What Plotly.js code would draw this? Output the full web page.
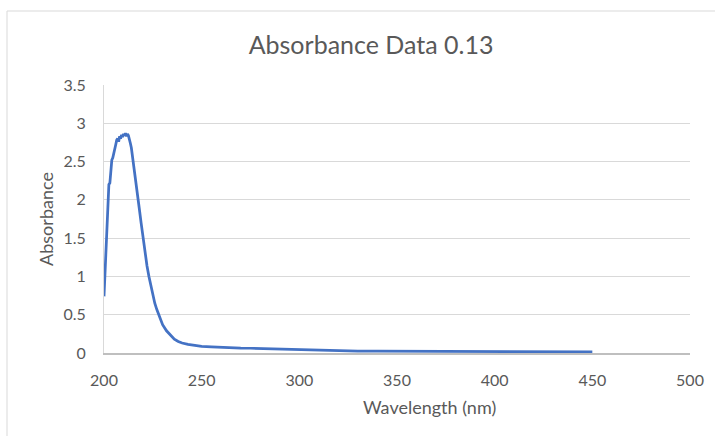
<!DOCTYPE html>
<html>
<head>
<meta charset="utf-8">
<script src="https://cdn.plot.ly/plotly-3.0.1.min.js"></script>
<style>html,body{margin:0;padding:0;background:#fff;}#chart{width:715px;height:436px;}</style>
</head>
<body>
<div id="chart"></div>
<script>
const wavelength = [200,200.5,201,201.5,202,202.5,203,203.5,204,204.5,205,205.5,206,206.5,207,207.5,208,208.5,209,209.5,210,210.5,211,211.5,212,212.5,213,213.5,214,215,216,217,218,219,220,221,222,223,224,225,226,227,228,229,230,232,234,236,238,240,243,246,250,255,260,265,270,275,280,290,300,310,320,330,340,350,360,370,380,390,400,410,420,430,440,450];
const absorbance = [0.74,1.0,1.28,1.6,1.92,2.2,2.22,2.45,2.52,2.55,2.62,2.7,2.72,2.78,2.8,2.76,2.83,2.8,2.85,2.82,2.86,2.84,2.87,2.83,2.86,2.84,2.80,2.74,2.68,2.5,2.3,2.1,1.9,1.7,1.5,1.31,1.14,1.0,0.87,0.75,0.65,0.57,0.5,0.43,0.37,0.29,0.23,0.18,0.15,0.13,0.112,0.1,0.088,0.08,0.073,0.068,0.064,0.062,0.058,0.048,0.04,0.033,0.028,0.025,0.024,0.023,0.022,0.021,0.02,0.018,0.017,0.016,0.016,0.015,0.015,0.014];
const xTicks = [200,250,300,350,400,450,500];
const yTicks = [0,0.5,1,1.5,2,2.5,3,3.5];
const xTitle = 'Wavelength (nm)';

const font = "Lato, 'Open Sans', sans-serif";
const trace = {
  x: wavelength, y: absorbance, type: 'scatter', mode: 'lines',
  line: {color: '#4472C4', width: 2.75}, hoverinfo: 'x+y'
};
const layout = {
  width: 715, height: 436,
  margin: {l: 104, r: 25, t: 85, b: 83},
  paper_bgcolor: '#fff', plot_bgcolor: '#fff',
  showlegend: false,
  font: {family: font, color: '#595959'},
  title: {text: 'Absorbance Data 0.13', x: 0.519, xanchor: 'center', y: 0.897, yanchor: 'middle',
          font: {family: font, size: 25, color: '#595959'}},
  xaxis: {
    range: [200, 500], tickvals: xTicks, ticktext: xTicks.map(String),
    showgrid: false, zeroline: false, showline: true, linecolor: '#bfbfbf', linewidth: 1.5,
    ticks: '', ticklabelstandoff: 12, tickfont: {family: font, size: 16, color: '#595959'},
    automargin: false
  },
  yaxis: {
    range: [0, 3.5], tickvals: yTicks, ticktext: yTicks.map(String),
    showgrid: true, gridcolor: '#d9d9d9', gridwidth: 1, zeroline: false,
    showline: true, linecolor: '#d9d9d9', linewidth: 1,
    ticks: '', ticklen: 0, ticklabelstandoff: 14, tickfont: {family: font, size: 16, color: '#595959'},
    automargin: false,
    title: {text: 'Absorbance', font: {family: font, size: 18, color: '#595959'}, standoff: 5}
  },
  annotations: [{
    text: xTitle, xref: 'paper', yref: 'paper', x: (429 - 104) / 586, y: -(407 - 353) / 268,
    xanchor: 'center', yanchor: 'middle', showarrow: false,
    font: {family: font, size: 18, color: '#595959'}
  }],
  shapes: [{
    type: 'rect', xref: 'paper', yref: 'paper',
    x0: (7 - 104) / 586, x1: (720 - 104) / 586,
    y0: -(445 - 353) / 268, y1: (353 - 11) / 268,
    line: {color: '#d9d9d9', width: 1}, fillcolor: 'rgba(0,0,0,0)', layer: 'below'
  }]
};
Plotly.newPlot('chart', [trace], layout, {displayModeBar: false, staticPlot: true});
</script>
</body>
</html>
